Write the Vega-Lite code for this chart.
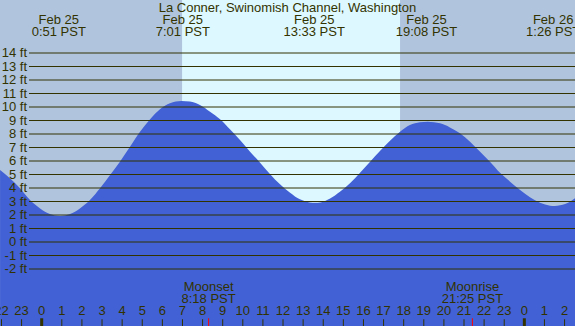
{
  "$schema": "https://vega.github.io/schema/vega-lite/v6.json",
  "width": 575,
  "height": 326,
  "autosize": "none",
  "padding": 0,
  "background": "#b0c4de",
  "config": {"view": {"stroke": null}, "text": {"font": "Liberation Sans", "fontSize": 13, "color": "#333300"}},
  "datasets": {
    "tide": [
      {"t": -2.07, "ft": 5.33}, {"t": -1.58, "ft": 4.72}, {"t": -1.08, "ft": 3.98}, {"t": -0.58, "ft": 3.11},
      {"t": -0.08, "ft": 2.49}, {"t": 0.41, "ft": 2.07}, {"t": 0.91, "ft": 1.93}, {"t": 1.41, "ft": 2.07},
      {"t": 1.90, "ft": 2.49}, {"t": 2.40, "ft": 3.11}, {"t": 2.90, "ft": 3.98}, {"t": 3.40, "ft": 4.96},
      {"t": 3.89, "ft": 5.95}, {"t": 4.39, "ft": 7.06}, {"t": 4.89, "ft": 8.17}, {"t": 5.39, "ft": 9.09},
      {"t": 5.88, "ft": 9.83}, {"t": 6.38, "ft": 10.27}, {"t": 6.95, "ft": 10.44}, {"t": 7.37, "ft": 10.4},
      {"t": 7.87, "ft": 10.15}, {"t": 8.37, "ft": 9.65}, {"t": 8.87, "ft": 9.09}, {"t": 9.36, "ft": 8.35},
      {"t": 9.86, "ft": 7.56}, {"t": 10.36, "ft": 6.69}, {"t": 10.86, "ft": 5.87}, {"t": 11.35, "ft": 5.04},
      {"t": 11.85, "ft": 4.27}, {"t": 12.35, "ft": 3.65}, {"t": 12.84, "ft": 3.16}, {"t": 13.34, "ft": 2.93},
      {"t": 13.6, "ft": 2.9}, {"t": 13.84, "ft": 2.93}, {"t": 14.34, "ft": 3.23}, {"t": 14.83, "ft": 3.73},
      {"t": 15.33, "ft": 4.35}, {"t": 15.83, "ft": 5.13}, {"t": 16.33, "ft": 5.95}, {"t": 16.82, "ft": 6.75},
      {"t": 17.32, "ft": 7.5}, {"t": 17.82, "ft": 8.17}, {"t": 18.31, "ft": 8.67}, {"t": 18.81, "ft": 8.87},
      {"t": 19.2, "ft": 8.91}, {"t": 19.81, "ft": 8.79}, {"t": 20.30, "ft": 8.49}, {"t": 20.80, "ft": 8.05},
      {"t": 21.30, "ft": 7.43}, {"t": 21.80, "ft": 6.69}, {"t": 22.29, "ft": 5.95}, {"t": 22.79, "ft": 5.13},
      {"t": 23.29, "ft": 4.47}, {"t": 23.79, "ft": 3.85}, {"t": 24.28, "ft": 3.31}, {"t": 24.78, "ft": 2.91},
      {"t": 25.28, "ft": 2.69}, {"t": 25.5, "ft": 2.66}, {"t": 25.78, "ft": 2.72}, {"t": 26.27, "ft": 2.99},
      {"t": 26.52, "ft": 3.24}
    ],
    "levels": [
      {"v": -2, "l": "-2 ft"}, {"v": -1, "l": "-1 ft"}, {"v": 0, "l": "0 ft"}, {"v": 1, "l": "1 ft"},
      {"v": 2, "l": "2 ft"}, {"v": 3, "l": "3 ft"}, {"v": 4, "l": "4 ft"}, {"v": 5, "l": "5 ft"},
      {"v": 6, "l": "6 ft"}, {"v": 7, "l": "7 ft"}, {"v": 8, "l": "8 ft"}, {"v": 9, "l": "9 ft"},
      {"v": 10, "l": "10 ft"}, {"v": 11, "l": "11 ft"}, {"v": 12, "l": "12 ft"}, {"v": 13, "l": "13 ft"},
      {"v": 14, "l": "14 ft"}
    ],
    "extremes": [
      {"t": 0.85, "d": "Feb 25", "tm": "0:51 PST"},
      {"t": 7.017, "d": "Feb 25", "tm": "7:01 PST"},
      {"t": 13.55, "d": "Feb 25", "tm": "13:33 PST"},
      {"t": 19.133, "d": "Feb 25", "tm": "19:08 PST"},
      {"t": 25.433, "d": "Feb 26", "tm": "1:26 PST"}
    ],
    "hours": [
      {"h": -2, "l": "22"}, {"h": -1, "l": "23"}, {"h": 0, "l": "0"}, {"h": 1, "l": "1"}, {"h": 2, "l": "2"},
      {"h": 3, "l": "3"}, {"h": 4, "l": "4"}, {"h": 5, "l": "5"}, {"h": 6, "l": "6"}, {"h": 7, "l": "7"},
      {"h": 8, "l": "8"}, {"h": 9, "l": "9"}, {"h": 10, "l": "10"}, {"h": 11, "l": "11"}, {"h": 12, "l": "12"},
      {"h": 13, "l": "13"}, {"h": 14, "l": "14"}, {"h": 15, "l": "15"}, {"h": 16, "l": "16"}, {"h": 17, "l": "17"},
      {"h": 18, "l": "18"}, {"h": 19, "l": "19"}, {"h": 20, "l": "20"}, {"h": 21, "l": "21"}, {"h": 22, "l": "22"},
      {"h": 23, "l": "23"}, {"h": 24, "l": "0"}, {"h": 25, "l": "1"}, {"h": 26, "l": "2"}
    ],
    "moon": [
      {"t": 8.30, "n": "Moonset", "tm": "8:18 PST"},
      {"t": 21.417, "n": "Moonrise", "tm": "21:25 PST"}
    ],
    "day": [{"start": 6.98, "end": 17.82}],
    "title": [{"t": 12.22, "txt": "La Conner, Swinomish Channel, Washington"}]
  },
  "encoding": {
    "x": {"type": "quantitative", "scale": {"domain": [-2.0736, 26.519], "nice": false, "zero": false}, "axis": null}
  },
  "layer": [
    {
      "data": {"name": "day"},
      "mark": {"type": "rect", "color": "#ddf8ff"},
      "encoding": {"x": {"field": "start", "type": "quantitative", "axis": null}, "x2": {"field": "end"}}
    },
    {
      "data": {"name": "tide"},
      "mark": {"type": "area", "color": "#4161d5", "interpolate": "monotone", "opacity": 1},
      "encoding": {
        "x": {"field": "t", "type": "quantitative", "axis": null},
        "y": {"field": "ft", "type": "quantitative", "scale": {"domain": [-6.222, 17.926], "nice": false, "zero": false}, "axis": null},
        "y2": {"datum": -6.222}
      }
    },
    {
      "data": {"name": "levels"},
      "mark": {"type": "rule", "color": "#333300", "strokeWidth": 1},
      "encoding": {
        "x": {"datum": -0.632, "type": "quantitative", "axis": null},
        "x2": {"datum": 26.519},
        "y": {"field": "v", "type": "quantitative", "axis": null}
      }
    },
    {
      "data": {"name": "levels"},
      "mark": {"type": "text", "align": "right", "baseline": "middle"},
      "encoding": {
        "x": {"datum": -0.73, "type": "quantitative", "axis": null},
        "y": {"field": "v", "type": "quantitative", "axis": null},
        "text": {"field": "l"}
      }
    },
    {
      "data": {"name": "title"},
      "mark": {"type": "text", "align": "center", "baseline": "middle"},
      "encoding": {
        "x": {"field": "t", "type": "quantitative", "axis": null},
        "y": {"datum": 17.37, "type": "quantitative", "axis": null},
        "text": {"field": "txt"}
      }
    },
    {
      "data": {"name": "extremes"},
      "mark": {"type": "text", "align": "center", "baseline": "middle"},
      "encoding": {
        "x": {"field": "t", "type": "quantitative", "axis": null},
        "y": {"datum": 16.48, "type": "quantitative", "axis": null},
        "text": {"field": "d"}
      }
    },
    {
      "data": {"name": "extremes"},
      "mark": {"type": "text", "align": "center", "baseline": "middle"},
      "encoding": {
        "x": {"field": "t", "type": "quantitative", "axis": null},
        "y": {"datum": 15.56, "type": "quantitative", "axis": null},
        "text": {"field": "tm"}
      }
    },
    {
      "data": {"name": "hours"},
      "mark": {"type": "text", "align": "center", "baseline": "middle"},
      "encoding": {
        "x": {"field": "h", "type": "quantitative", "axis": null},
        "y": {"datum": -5.11, "type": "quantitative", "axis": null},
        "text": {"field": "l"}
      }
    },
    {
      "data": {"name": "hours"},
      "transform": [{"filter": "datum.h != 0 && datum.h != 24"}],
      "mark": {"type": "rule", "color": "#333300", "strokeWidth": 1},
      "encoding": {
        "x": {"field": "h", "type": "quantitative", "axis": null},
        "y": {"datum": -5.72, "type": "quantitative", "axis": null},
        "y2": {"datum": -6.222}
      }
    },
    {
      "data": {"name": "hours"},
      "transform": [{"filter": "datum.h == 0 || datum.h == 24"}],
      "mark": {"type": "rule", "color": "#333300", "strokeWidth": 3},
      "encoding": {
        "x": {"field": "h", "type": "quantitative", "axis": null},
        "y": {"datum": -5.65, "type": "quantitative", "axis": null},
        "y2": {"datum": -6.222}
      }
    },
    {
      "data": {"name": "moon"},
      "mark": {"type": "rule", "color": "#ff0000", "strokeWidth": 1},
      "encoding": {
        "x": {"field": "t", "type": "quantitative", "axis": null},
        "y": {"datum": -5.65, "type": "quantitative", "axis": null},
        "y2": {"datum": -6.222}
      }
    },
    {
      "data": {"name": "moon"},
      "mark": {"type": "text", "align": "center", "baseline": "middle"},
      "encoding": {
        "x": {"field": "t", "type": "quantitative", "axis": null},
        "y": {"datum": -3.37, "type": "quantitative", "axis": null},
        "text": {"field": "n"}
      }
    },
    {
      "data": {"name": "moon"},
      "mark": {"type": "text", "align": "center", "baseline": "middle"},
      "encoding": {
        "x": {"field": "t", "type": "quantitative", "axis": null},
        "y": {"datum": -4.22, "type": "quantitative", "axis": null},
        "text": {"field": "tm"}
      }
    }
  ]
}
